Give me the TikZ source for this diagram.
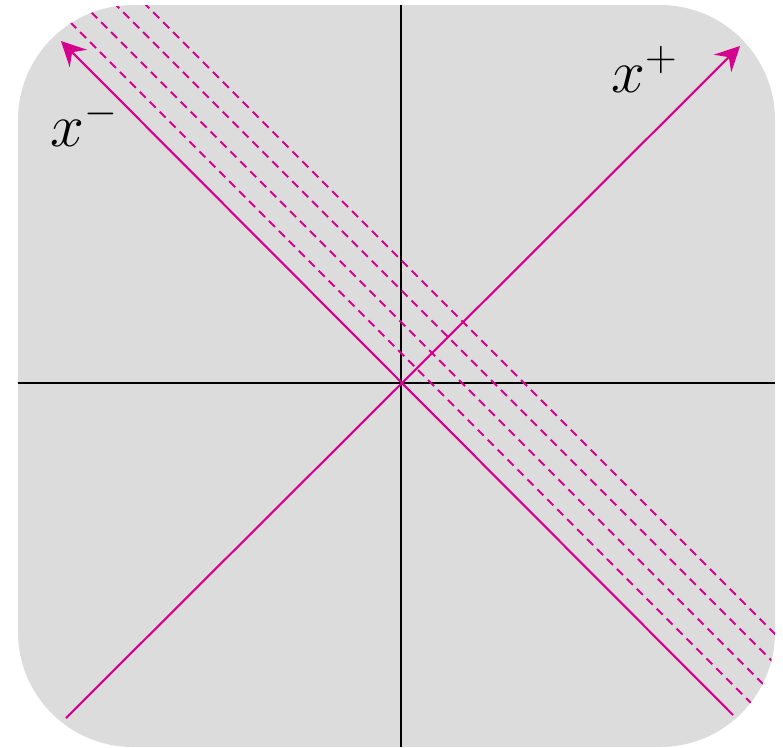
\documentclass[tikz,border=0pt]{standalone}
\usetikzlibrary{arrows.meta}
\definecolor{panel}{HTML}{DCDCDC}
\definecolor{lightray}{HTML}{D6008F}

\begin{document}
\begin{tikzpicture}[>={Stealth[length=7pt,width=7pt,inset=2.5pt]},
  ray/.style={lightray,semithick},
  wave/.style={lightray,semithick,dash pattern=on 2.4pt off 1.6pt}]
\useasboundingbox (-4.01,-3.64) rectangle (3.82,3.83);
\fill[panel,rounded corners=11.5mm] (-3.83,-3.64) rectangle (3.74,3.78);
% axes and the shifted fronts, cut by the panel
\begin{scope}
\clip[rounded corners=11.5mm] (-3.83,-3.64) rectangle (3.74,3.78);
\draw[semithick] (-3.83,0)--(3.74,0);
\draw[semithick] (0,-3.64)--(0,3.78);
\foreach \c in {0.30,0.61,0.93,1.23}
  \draw[wave] (\c-5,5)--(\c+5,-5);
\end{scope}
% light-cone coordinates
\coordinate (o) at (0,0);
\coordinate (pstart) at (-3.35,-3.35);
\coordinate (pend) at (3.39,3.37);
\coordinate (mstart) at (3.32,-3.32);
\coordinate (mend) at (-3.40,3.42);
\draw[ray,->] (pstart)--(pend);
\draw[ray,->] (mstart)--(mend);
\node[font=\LARGE] (xp) at (2.44,3.14) {$x^+$};
\node[font=\LARGE] (xm) at (-3.16,2.60) {$x^-$};
\end{tikzpicture}
\end{document}
